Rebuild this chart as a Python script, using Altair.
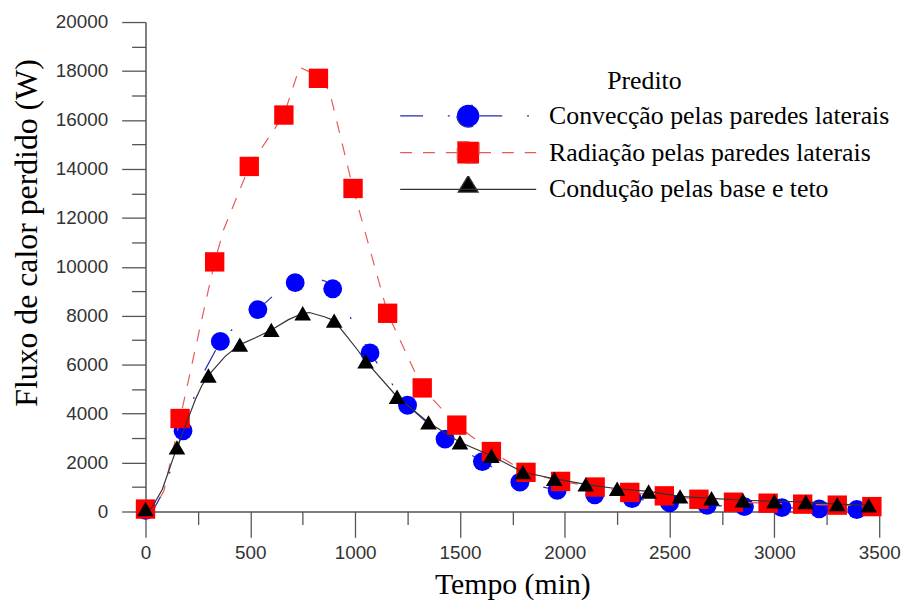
import altair as alt
import pandas as pd

# ---------------- data ----------------
series_names = ["Convecção pelas paredes laterais",
                "Radiação pelas paredes laterais",
                "Condução pelas base e teto"]

# markers
conv_t = [0, 179, 357, 536, 714, 893, 1071, 1250, 1429, 1607, 1786, 1964,
          2143, 2321, 2500, 2679, 2857, 3036, 3214, 3393]
conv_v = [50, 3300, 6950, 8250, 9350, 9100, 6480, 4340, 2960, 2040, 1200, 870,
          680, 530, 350, 250, 200, 160, 110, 80]

rad_t = [0, 165, 330, 495, 660, 825, 990, 1155, 1320, 1485, 1650, 1815, 1980,
         2145, 2310, 2475, 2640, 2805, 2970, 3135, 3300, 3465]
rad_v = [100, 3800, 10200, 14100, 16200, 17700, 13200, 8100, 5050, 3530, 2450,
         1600, 1230, 1000, 780, 640, 500, 380, 340, 300, 260, 200]

cond_t = [0, 150, 300, 450, 600, 750, 900, 1050, 1200, 1350, 1500, 1650, 1800,
          1950, 2100, 2250, 2400, 2550, 2700, 2850, 3000, 3150, 3300, 3450]
cond_v = [100, 2620, 5560, 6820, 7420, 8100, 7800, 6140, 4690, 3640, 2830, 2280,
          1610, 1340, 1110, 930, 820, 620, 540, 460, 420, 390, 300, 250]

# predicted curves (lines)
conv_line_t = [0, 40, 90, 179, 260, 357, 450, 536, 620, 714, 790, 861, 893, 950,
               995, 1071, 1121, 1250, 1429, 1607, 1786, 1964, 2143, 2321, 2500,
               2679, 2857, 3036, 3214, 3393, 3450]
conv_line_v = [0, 100, 900, 3300, 5400, 6950, 7750, 8250, 8900, 9350, 9590, 9400,
               9100, 8400, 7630, 6480, 5870, 4340, 2960, 2040, 1200, 870, 680, 530,
               350, 250, 200, 160, 110, 80, 70]

rad_line_t = [0, 40, 88, 165, 262, 330, 372, 495, 660, 735, 800, 825, 877, 990,
              1155, 1320, 1485, 1650, 1815, 1980, 2145, 2310, 2475, 2640, 2805,
              2970, 3135, 3300, 3465]
rad_line_v = [0, 100, 850, 3800, 7600, 10200, 11500, 14100, 16200, 18150, 17900,
              17700, 17200, 13200, 8100, 5050, 3530, 2450, 1600, 1230, 1000, 780,
              640, 500, 380, 340, 300, 260, 200]

cond_line_t = [0, 30, 80, 150, 190, 238, 269, 300, 380, 450, 522, 600, 680, 750,
               782, 853, 900, 948, 1011, 1050, 1200, 1350, 1500, 1650, 1800, 1950,
               2100, 2250, 2400, 2550, 2700, 2850, 3000, 3150, 3300, 3450]
cond_line_v = [0, 150, 900, 2620, 3500, 4580, 5150, 5560, 6340, 6820, 7090, 7420,
               7830, 8100, 8130, 7960, 7800, 7290, 6610, 6140, 4690, 3640, 2830,
               2280, 1610, 1340, 1110, 930, 820, 620, 540, 460, 420, 390, 300, 250]

x_ticks = list(range(0, 3501, 250))
y_ticks = list(range(0, 20001, 1000))

marker_fill = ["#0000ff", "#ff0000", "#000000"]
line_color = ["#2a2aa8", "#e85a5a", "#333333"]
dash_patterns = [[23, 25, 2, 29], [12, 11], [1, 0]]

# legend symbols: line + marker (unit = half of the symbol width)
legend_paths = [
    "M-1,0L-0.165,0M0.165,0L1,0M-0.165,0A0.165,0.165,0,1,0,0.165,0A0.165,0.165,0,1,0,-0.165,0Z",
    "M-1,0L-0.16,0M0.16,0L1,0M-0.16,-0.16L0.16,-0.16L0.16,0.16L-0.16,0.16Z",
    "M-1,0L1,0M0,-0.2L0.146,0.04L-0.146,0.04Z",
]

# ---------------- chart ----------------
x_axis = alt.Axis(
    values=x_ticks,
    labelExpr="datum.value % 500 === 0 ? datum.label : ''",
    format="d",
    tickSize={"condition": {"test": "datum.value % 500 === 0", "value": 26}, "value": 13},
    labelPadding=6,
    labelOverlap=False,
    labelFlush=False,
    titleFontSize=30,
    titleBaseline="alphabetic",
    titleY=83,
)
y_axis = alt.Axis(
    values=y_ticks,
    labelExpr="datum.value % 2000 === 0 ? datum.label : ''",
    format="d",
    tickSize={"condition": {"test": "datum.value % 2000 === 0", "value": 24}, "value": 14},
    labelPadding=14,
    labelOverlap=False,
    labelFlush=False,
    titleFontSize=32,
    titlePadding=12,
    titleY=212,
)

X = alt.X("t:Q", scale=alt.Scale(domain=[0, 3500], nice=False, zero=False),
          axis=x_axis, title="Tempo (min)")
Y = alt.Y("v:Q", scale=alt.Scale(domain=[0, 20000], nice=False),
          axis=y_axis, title="Fluxo de calor perdido (W)")


def df(t, v):
    return pd.DataFrame({"t": t, "v": v})


layers = []
marker_specs = [("circle", 361), ("square", 380), ("triangle-up", 280)]
line_sets = [(conv_line_t, conv_line_v), (rad_line_t, rad_line_v), (cond_line_t, cond_line_v)]
mark_sets = [(conv_t, conv_v), (rad_t, rad_v), (cond_t, cond_v)]
for i in range(3):
    lt, lv = line_sets[i]
    kw = dict(color=line_color[i], strokeWidth=1.2)
    if i < 2:
        kw["strokeDash"] = dash_patterns[i]
    layers.append(alt.Chart(df(lt, lv)).mark_line(**kw).encode(x=X, y=Y))
    mt, mv = mark_sets[i]
    shp, sz = marker_specs[i]
    layers.append(
        alt.Chart(df(mt, mv)).mark_point(filled=True, opacity=1, shape=shp, size=sz,
                                         color=marker_fill[i], strokeWidth=0)
        .encode(x=X, y=Y)
    )

# legend-only layer (no visible data)
leg_df = pd.DataFrame({"series": series_names, "t": [0, 0, 0], "v": [0, 0, 0]})
legend = alt.Legend(
    title="Predito", orient="none", legendX=255.5, legendY=46, direction="vertical",
    titleFont="Liberation Serif", titleFontSize=26, titleFontWeight="normal",
    titleColor="black", titleAnchor="middle", titlePadding=9,
    labelFont="Liberation Serif", labelFontSize=26, labelColor="black",
    labelLimit=0, labelOffset=12, symbolSize=18769, symbolStrokeWidth=1.3,
    clipHeight=27, rowPadding=10, padding=0,
)
legend_layer = (
    alt.Chart(leg_df).transform_filter("datum.t < 0")
    .mark_point(filled=True, opacity=1, size=18769, strokeWidth=1.3)
    .encode(
        x=X, y=Y,
        fill=alt.Fill("series:N", scale=alt.Scale(domain=series_names, range=marker_fill), legend=legend),
        stroke=alt.Stroke("series:N", scale=alt.Scale(domain=series_names, range=line_color), legend=legend),
        shape=alt.Shape("series:N", scale=alt.Scale(domain=series_names, range=legend_paths), legend=legend),
        strokeDash=alt.StrokeDash("series:N", scale=alt.Scale(domain=series_names, range=dash_patterns), legend=legend),
    )
)
layers.append(legend_layer)

chart = (
    alt.layer(*layers)
    .properties(width=739, height=493,
                autosize=alt.AutoSizeParams(type="none"),
                padding={"left": 138.5, "top": 12, "right": 29, "bottom": 88})
    .configure_view(stroke=None)
    .configure_axis(grid=False, domainColor="#555555", tickColor="#555555",
                    domainWidth=1.5, tickWidth=1.3,
                    labelFont="Liberation Sans", labelFontSize=19, labelColor="#333333",
                    titleFont="Liberation Serif", titleFontWeight="normal", titleColor="black")
)

chart.save("out.html", embed_options={"renderer": "svg", "actions": False})
